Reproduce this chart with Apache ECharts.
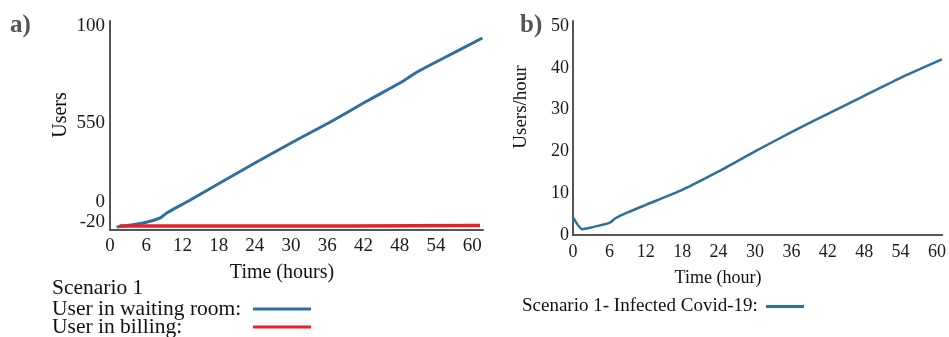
<!DOCTYPE html>
<html>
<head>
<meta charset="utf-8">
<script src="https://cdn.jsdelivr.net/npm/echarts@6/dist/echarts.min.js"></script>
<style>
	html,body{margin:0;padding:0;background:#fff;}
	#chart{width:949px;height:337px;}
</style>
</head>
<body>
<div id="chart"></div>
<script>
	// a) users over time -- the printed y scale is not linear, so the axis runs in
	// plot units and the printed tick texts are put on top of it
	const hoursWaiting = [1.1, 5.5, 8.3, 9.4, 13.3, 18.2, 24.3, 30.3, 36.5, 42.6, 48.6, 50.9, 55.3, 61.7]
	const usersWaiting = [-25, -21, -16, -11, 2, 19, 40, 60, 80, 101, 121, 130, 144, 164]
	const hoursBilling = [1.6, 20, 40, 61.3]
	const usersBilling = [-24, -24, -24, -23.5]
	const usersTickValues = [-20, 0, 79, 176]
	const usersTickTexts = ['-20', '0', '550', '100']

	// b) infected users per hour
	const hoursInfected = [0, 1.5, 3, 6, 7, 9, 12, 18, 24, 30, 36, 42, 48, 54, 60.8]
	const usersInfected = [4.2, 1.4, 1.8, 2.9, 4.0, 5.4, 7.2, 10.8, 15.2, 20.0, 24.6, 29.0, 33.3, 37.6, 42.0]

	const serif = '"Liberation Serif", "DejaVu Serif", serif'
	const axisColor = '#555'
	const blue = '#2f6f9f'
	const red = '#e8202a'

	const toPairs = (xs, ys) => xs.map((x, i) => [x, ys[i]])
	const everySix = v => (Math.abs(v % 6) < 1e-6 ? String(v) : '')
	const everyTen = v => (Math.abs(v % 10) < 1e-6 ? String(v) : '')

	// one legend per entry, text first and the line sample after it
	const legendItem = (name, left, top, iconWidth, textWidth, fontSize) => ({
		orient: 'horizontal',
		left: left,
		top: top,
		padding: 0,
		align: 'right',
		itemWidth: iconWidth,
		itemHeight: 3,
		icon: 'rect',
		data: [name],
		formatter: n => '{t|' + n + '}',
		textStyle: {
			rich: {t: {width: textWidth, align: 'left', fontSize: fontSize, lineHeight: 19, color: '#111', fontFamily: serif}}
		}
	})

	const myChart = echarts.init(document.getElementById('chart'))

	const option = {
		backgroundColor: '#fff',
		animation: false,
		textStyle: {fontFamily: serif},
		grid: [
			{left: 110, top: 21, width: 373, height: 209},
			{left: 573, top: 21, width: 370, height: 214}
		],
		xAxis: [{
			gridIndex: 0,
			type: 'value',
			min: 0,
			max: 61.8,
			interval: 6,
			axisLine: {onZero: false, lineStyle: {color: axisColor, width: 2}},
			axisTick: {show: false},
			splitLine: {show: false},
			axisLabel: {margin: 7, fontSize: 19, color: '#1a1a1a', fontFamily: serif, formatter: everySix}
		}, {
			gridIndex: 1,
			type: 'value',
			min: 0,
			max: 60.85,
			interval: 6,
			axisLine: {onZero: false, lineStyle: {color: axisColor, width: 2}},
			axisTick: {show: false},
			splitLine: {show: false},
			axisLabel: {margin: 8, fontSize: 18, color: '#1a1a1a', fontFamily: serif, formatter: everySix}
		}],
		yAxis: [{
			gridIndex: 0,
			type: 'value',
			min: -28,
			max: 181,
			axisLine: {show: true, onZero: false, lineStyle: {color: axisColor, width: 2}},
			axisTick: {show: false},
			splitLine: {show: false},
			axisLabel: {
				margin: 5,
				fontSize: 19,
				color: '#1a1a1a',
				fontFamily: serif,
				customValues: usersTickValues,
				formatter: function(value) {
					const i = usersTickValues.indexOf(value)
					return i >= 0 ? usersTickTexts[i] : ''
				}
			}
		}, {
			gridIndex: 1,
			type: 'value',
			min: 0,
			max: 51.2,
			interval: 10,
			axisLine: {show: true, onZero: false, lineStyle: {color: axisColor, width: 2}},
			axisTick: {show: false},
			splitLine: {show: false},
			axisLabel: {margin: 4, fontSize: 18, color: '#1a1a1a', fontFamily: serif, formatter: everyTen}
		}],
		legend: [
			legendItem('User in waiting room:', 52, 298, 58, 196, 21.5),
			legendItem('User in billing:', 52, 316, 58, 196, 21.5),
			legendItem('Scenario 1- Infected Covid-19:', 522, 297, 38, 239, 19)
		],
		graphic: [
			{type: 'text', left: 10, top: 13, style: {text: 'a)', font: 'bold 25px ' + serif, fill: '#555'}},
			{type: 'text', left: 520, top: 13, style: {text: 'b)', font: 'bold 25px ' + serif, fill: '#555'}},
			// axis titles
			{type: 'text', x: 61, y: 115, rotation: Math.PI / 2, style: {text: 'Users', font: '20px ' + serif, fill: '#111', align: 'center', verticalAlign: 'middle'}},
			{type: 'text', x: 521, y: 107, rotation: Math.PI / 2, style: {text: 'Users/hour', font: '19px ' + serif, fill: '#111', align: 'center', verticalAlign: 'middle'}},
			{type: 'text', x: 282, y: 273, style: {text: 'Time (hours)', font: '20px ' + serif, fill: '#111', align: 'center', verticalAlign: 'middle'}},
			{type: 'text', x: 718, y: 278, style: {text: 'Time (hour)', font: '18px ' + serif, fill: '#111', align: 'center', verticalAlign: 'middle'}},
			{type: 'text', x: 52, y: 288, style: {text: 'Scenario 1', font: '21.5px ' + serif, fill: '#111', align: 'left', verticalAlign: 'middle'}}
		],
		series: [{
			name: 'User in waiting room:',
			type: 'line',
			xAxisIndex: 0,
			yAxisIndex: 0,
			data: toPairs(hoursWaiting, usersWaiting),
			smooth: 0.3,
			showSymbol: false,
			lineStyle: {color: blue, width: 3},
			itemStyle: {color: blue}
		}, {
			name: 'User in billing:',
			type: 'line',
			xAxisIndex: 0,
			yAxisIndex: 0,
			data: toPairs(hoursBilling, usersBilling),
			showSymbol: false,
			lineStyle: {color: red, width: 3.5},
			itemStyle: {color: red}
		}, {
			name: 'Scenario 1- Infected Covid-19:',
			type: 'line',
			xAxisIndex: 1,
			yAxisIndex: 1,
			data: toPairs(hoursInfected, usersInfected),
			smooth: 0.2,
			showSymbol: false,
			lineStyle: {color: blue, width: 2.5},
			itemStyle: {color: blue}
		}]
	}

	myChart.setOption(option)
</script>
</body>
</html>
